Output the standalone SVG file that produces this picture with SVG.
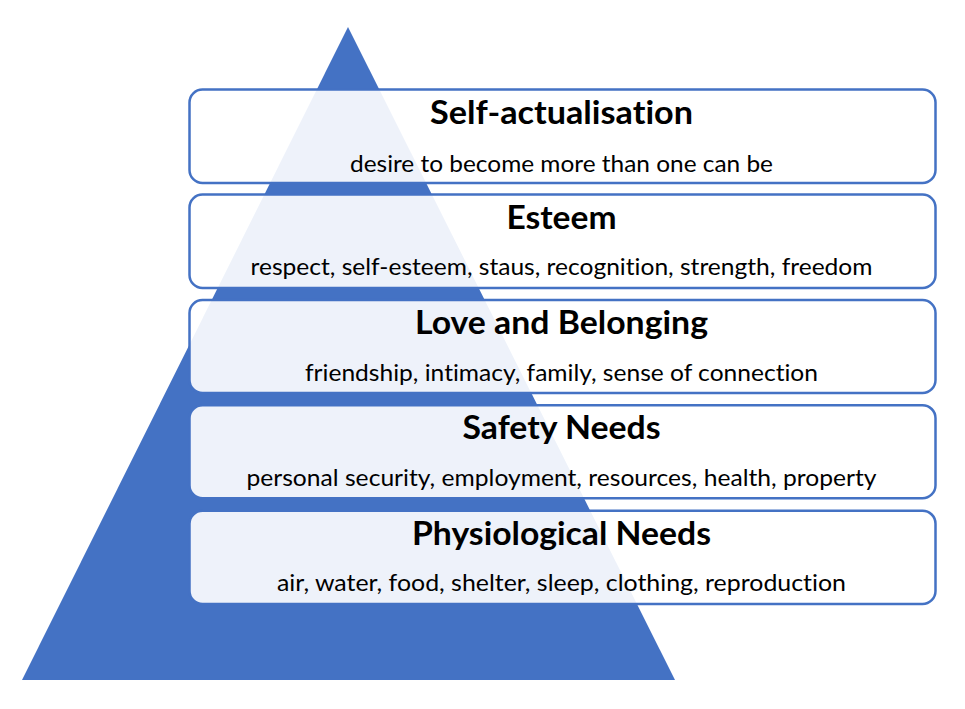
<svg xmlns="http://www.w3.org/2000/svg" width="965" height="709" viewBox="0 0 965 709">
<style>
.box{fill:#ffffff;fill-opacity:0.91;stroke:#4472C4;stroke-width:2.5}
.t{font-family:Lato,"Liberation Sans",sans-serif;font-weight:bold;font-size:32px;fill:#000;text-anchor:middle;font-variant-ligatures:none}
.s{font-family:Lato,"Liberation Sans",sans-serif;font-size:23.5px;fill:#000;text-anchor:middle;font-variant-ligatures:none}
</style>
<rect width="965" height="709" fill="#ffffff"/>
<g id="pyramid"><polygon points="348,27 675,680 22,680" fill="#4472C4"/></g>
<g id="connectors"></g>
<g id="self-actualisation">
<rect class="box" x="189.5" y="89.5" width="746" height="93.5" rx="13"/>
<text class="t" x="561.5" y="123.5" textLength="263" lengthAdjust="spacingAndGlyphs">Self-actualisation</text>
<text class="s" x="561.5" y="172" textLength="423" lengthAdjust="spacingAndGlyphs">desire to become more than one can be</text>
</g>
<g id="esteem">
<rect class="box" x="189.5" y="194.5" width="746" height="93.5" rx="13"/>
<text class="t" x="561.5" y="228.5" textLength="110" lengthAdjust="spacingAndGlyphs">Esteem</text>
<text class="s" x="561.5" y="275" textLength="622" lengthAdjust="spacingAndGlyphs">respect, self-esteem, staus, recognition, strength, freedom</text>
</g>
<g id="love">
<rect class="box" x="189.5" y="300" width="746" height="93" rx="13"/>
<text class="t" x="561.5" y="334" textLength="293" lengthAdjust="spacingAndGlyphs">Love and Belonging</text>
<text class="s" x="561.5" y="380.5" textLength="513" lengthAdjust="spacingAndGlyphs">friendship, intimacy, family, sense of connection</text>
</g>
<g id="safety">
<rect class="box" x="189.5" y="405.2" width="746" height="93" rx="13"/>
<text class="t" x="561.5" y="439.2" textLength="198" lengthAdjust="spacingAndGlyphs">Safety Needs</text>
<text class="s" x="561.5" y="485.5" textLength="630" lengthAdjust="spacingAndGlyphs">personal security, employment, resources, health, property</text>
</g>
<g id="physiological">
<rect class="box" x="189.5" y="510.7" width="746" height="93.3" rx="13"/>
<text class="t" x="561.5" y="544.7" textLength="299" lengthAdjust="spacingAndGlyphs">Physiological Needs</text>
<text class="s" x="561.5" y="590.5" textLength="569" lengthAdjust="spacingAndGlyphs">air, water, food, shelter, sleep, clothing, reproduction</text>
</g>
</svg>
